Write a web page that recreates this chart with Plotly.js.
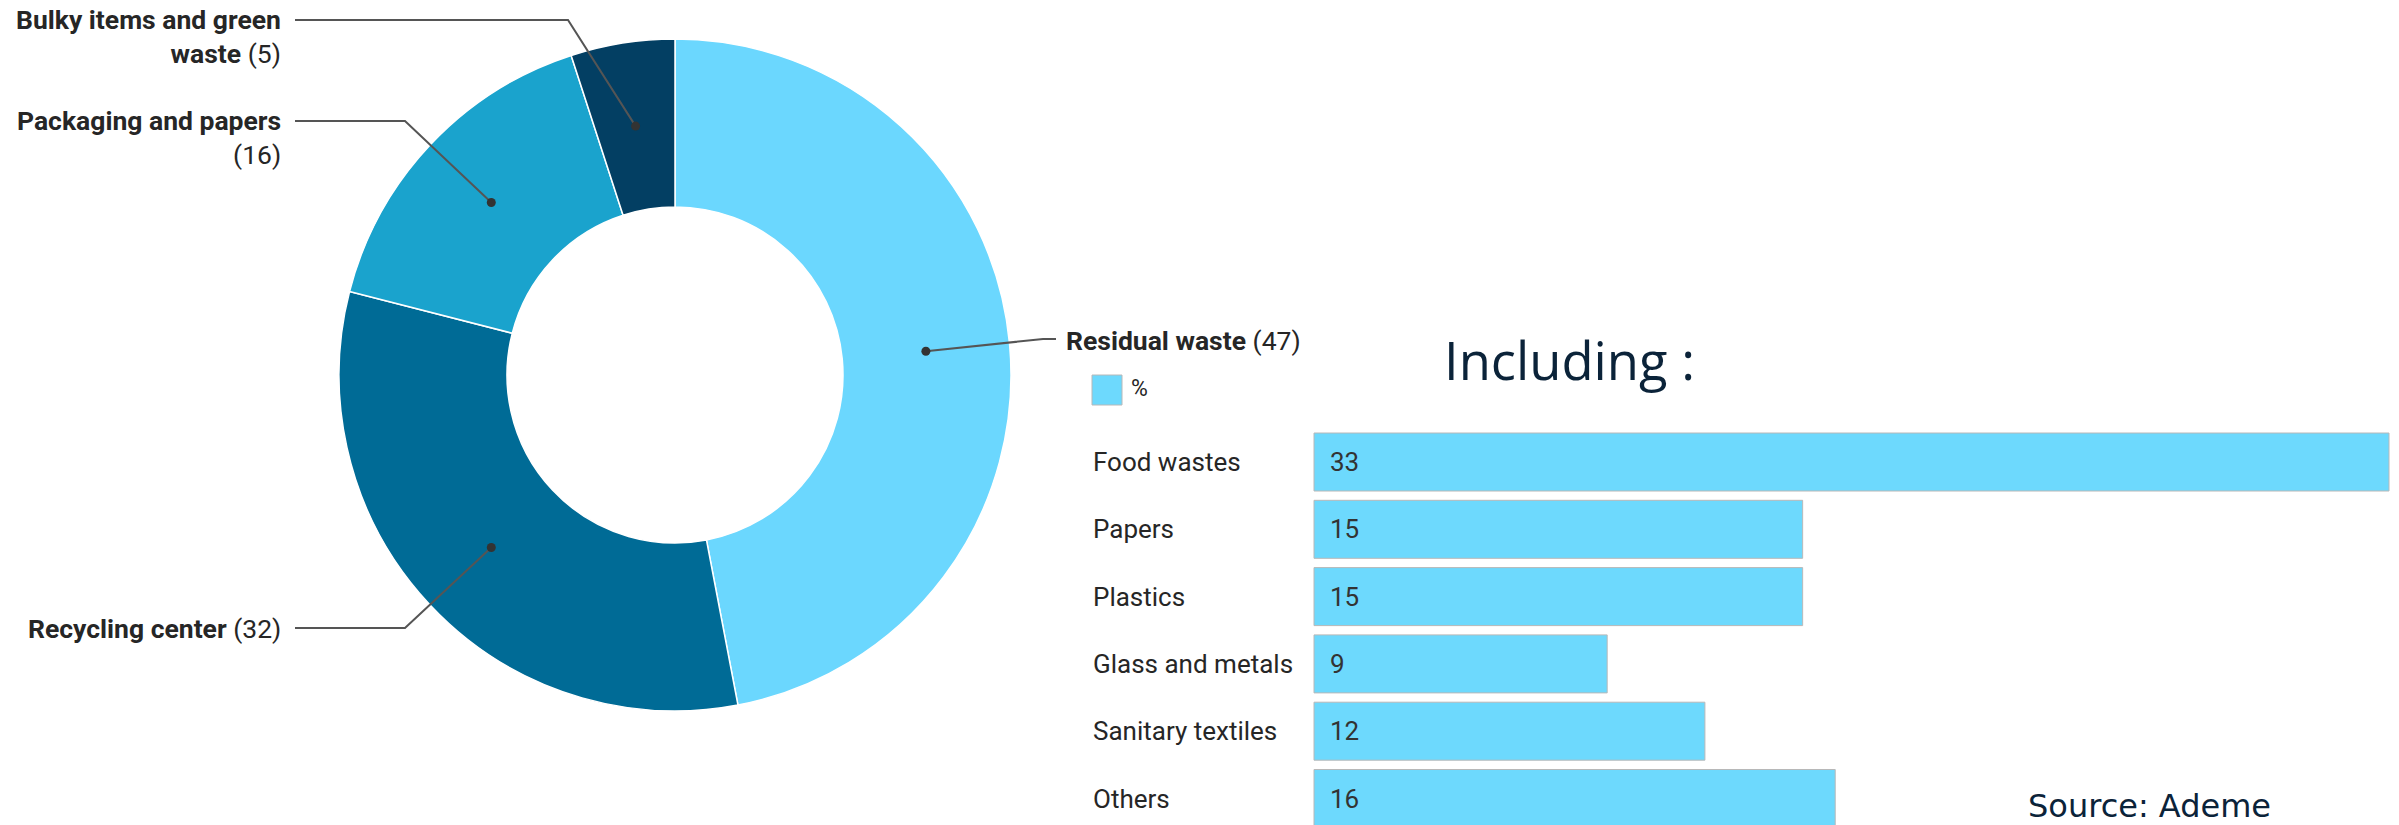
<!DOCTYPE html>
<html><head><meta charset="utf-8">
<script src="https://cdn.plot.ly/plotly-3.0.1.min.js"></script>
<style>html,body{margin:0;padding:0;background:#fff}#chart{width:2399px;height:825px}</style>
</head><body><div id="chart"></div>
<script>
// ---- data ----
const donutLabels = ['Residual waste', 'Recycling center', 'Packaging and papers', 'Bulky items and green waste'];
const donutValues = [47, 32, 16, 5];
const barCategories = ['Food wastes', 'Papers', 'Plastics', 'Glass and metals', 'Sanitary textiles', 'Others'];
const barValues = [33, 15, 15, 9, 12, 16];
const barSeriesName = '%';
const chartTitle = 'Including :';
const sourceText = 'Source: Ademe';

// ---- styling / layout ----
const W = 2399, H = 825;
const donutColors = ['#6bd7fe', '#006b96', '#1aa3cd', '#033f63'];
const barColor = '#6dd9fd';
const barLine = '#b8b8b8';
const textColor = '#262626';
const labelSize = 26.5;
const pie = {cx: 675, cy: 375, r: 336, hole: 0.5};
const px = x => x / W;
const py = y => 1 - y / H;

// label placement (pixel positions of label anchors, elbows)
const labelLayout = [
  {side: 'right', textX: 1064, textY: 340, elbow: [1043, 339], end: 1056, wrapAfter: null},
  {side: 'left', textX: 283, textY: 628, elbow: [405, 628], end: 295, wrapAfter: null},
  {side: 'left', textX: 283, textY: 121, elbow: [405, 121], end: 295, wrapAfter: 'name'},
  {side: 'left', textX: 283, textY: 20, elbow: [568, 20], end: 295, wrapAfter: 'green'}
];

const total = donutValues.reduce((a, b) => a + b, 0);
const rMid = pie.r * (1 + pie.hole) / 2;
let cum = 0;
const shapes = [];
const annotations = [];
donutValues.forEach((v, i) => {
  const mid = (cum + v / 2) / total * 2 * Math.PI;
  cum += v;
  const dx = pie.cx + Math.sin(mid) * rMid;
  const dy = pie.cy - Math.cos(mid) * rMid;
  const L = labelLayout[i];
  shapes.push({
    type: 'path', xref: 'paper', yref: 'paper', layer: 'above',
    path: `M ${px(dx)},${py(dy)} L ${px(L.elbow[0])},${py(L.elbow[1])} L ${px(L.end)},${py(L.elbow[1])}`,
    line: {color: '#555555', width: 2}
  });
  shapes.push({
    type: 'circle', xref: 'paper', yref: 'paper', layer: 'above',
    xsizemode: 'pixel', ysizemode: 'pixel', xanchor: px(dx), yanchor: py(dy),
    x0: -4.5, x1: 4.5, y0: -4.5, y1: 4.5,
    fillcolor: '#333333', line: {width: 0}
  });
  const name = donutLabels[i];
  let txt;
  if (L.wrapAfter === null) {
    txt = `<b>${name}</b> (${v})`;
  } else if (L.wrapAfter === 'name') {
    txt = `<b>${name}</b><br>(${v})`;
  } else {
    const k = name.indexOf(L.wrapAfter) + L.wrapAfter.length;
    txt = `<b>${name.slice(0, k)}</b><br><b>${name.slice(k + 1)}</b> (${v})`;
  }
  const twoLines = L.wrapAfter !== null;
  annotations.push({
    xref: 'paper', yref: 'paper', x: px(L.textX), y: py(L.textY + (twoLines ? 16.5 : 0)),
    xanchor: L.side === 'left' ? 'right' : 'left', yanchor: 'middle',
    align: L.side === 'left' ? 'right' : 'left',
    text: txt, showarrow: false,
    font: {family: 'Roboto', size: labelSize, color: textColor}
  });
});

// bar chart geometry
const barLeft = 1314, barRight = 2389;
const unit = (barRight - barLeft) / 33;
const rowTop = 462, rowPitch = 67.3;
const domTopPx = 420;
const yBottom = (H - rowTop) / rowPitch;      // index at canvas bottom
const yTop = -(rowTop - domTopPx) / rowPitch; // index at domain top

barCategories.forEach(c => {
  annotations.push({
    xref: 'paper', yref: 'y', x: px(1091), y: c, xanchor: 'left', yanchor: 'middle',
    text: c, showarrow: false, font: {family: 'Roboto', size: 26, color: textColor}
  });
});

// legend
shapes.push({
  type: 'rect', xref: 'paper', yref: 'paper',
  x0: px(1092), x1: px(1122), y0: py(375), y1: py(405),
  fillcolor: barColor, line: {color: barLine, width: 1}
});
annotations.push({
  xref: 'paper', yref: 'paper', x: px(1129), y: py(389), xanchor: 'left', yanchor: 'middle',
  text: barSeriesName, showarrow: false, font: {family: 'Roboto', size: 23, color: textColor}
});
// title and source
annotations.push({
  xref: 'paper', yref: 'paper', x: px(1442), y: py(360), xanchor: 'left', yanchor: 'middle',
  text: chartTitle, showarrow: false, font: {family: 'Open Sans', size: 52.5, color: '#0b2339'}
});
annotations.push({
  xref: 'paper', yref: 'paper', x: px(2026), y: py(806), xanchor: 'left', yanchor: 'middle',
  text: sourceText, showarrow: false, font: {family: 'DejaVu Sans', size: 32, color: '#0b2339'}
});

const traces = [
  {
    type: 'pie', values: donutValues, labels: donutLabels, hole: pie.hole,
    sort: false, direction: 'clockwise', rotation: 0,
    marker: {colors: donutColors, line: {color: '#ffffff', width: 1.5}},
    textinfo: 'none', hoverinfo: 'label+value', showlegend: false,
    domain: {x: [px(pie.cx - pie.r), px(pie.cx + pie.r)], y: [py(pie.cy + pie.r), py(pie.cy - pie.r)]}
  },
  {
    type: 'bar', orientation: 'h', name: barSeriesName,
    x: barValues, y: barCategories, xaxis: 'x', yaxis: 'y',
    width: 58 / rowPitch,
    marker: {color: barColor, line: {color: barLine, width: 1}},
    texttemplate: '\u00a0\u00a0%{x}', textposition: 'inside', insidetextanchor: 'start',
    constraintext: 'none',
    insidetextfont: {family: 'Roboto', size: 26, color: '#333333'},
    hoverinfo: 'y+x', showlegend: false
  }
];

const layout = {
  width: W, height: H,
  margin: {l: 0, r: 0, t: 0, b: 0, pad: 0},
  paper_bgcolor: '#ffffff', plot_bgcolor: 'rgba(0,0,0,0)',
  showlegend: false,
  font: {family: 'Roboto', color: textColor},
  xaxis: {
    domain: [px(barLeft - 0.05 * unit), px(barRight + 0.05 * unit)],
    range: [-0.05, 33.05], visible: false, fixedrange: true
  },
  yaxis: {
    domain: [0, py(domTopPx)], type: 'category',
    categoryorder: 'array', categoryarray: barCategories,
    range: [yBottom, yTop], visible: false, fixedrange: true
  },
  shapes: shapes,
  annotations: annotations
};

Plotly.newPlot('chart', traces, layout, {displayModeBar: false, staticPlot: true});
</script>
</body></html>
